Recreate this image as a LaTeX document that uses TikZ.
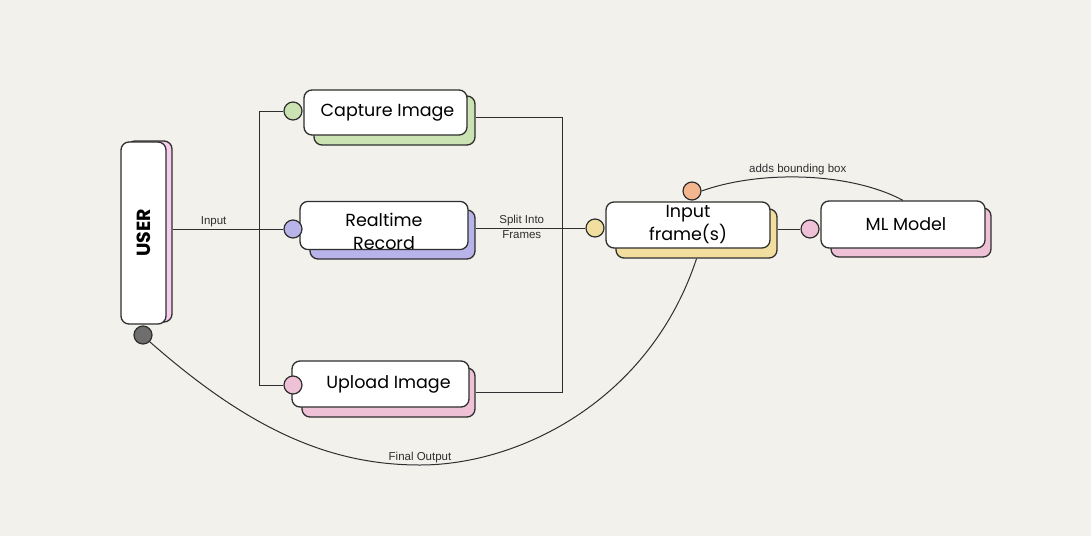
\documentclass[tikz,border=0pt]{standalone}
\usepackage{fontspec}
\setmainfont{Liberation Sans}
\newfontfamily\boxfont{Poppins}
\definecolor{paper}{HTML}{F2F1EC}
\definecolor{ink}{HTML}{2E2E2E}
\definecolor{capgreen}{HTML}{CBE2B3}
\definecolor{reclav}{HTML}{B8B3E8}
\definecolor{uppink}{HTML}{EEC1D6}
\definecolor{inyellow}{HTML}{F2DFA0}
\definecolor{bborange}{HTML}{F3B68F}
\definecolor{userpink}{HTML}{F7CDEE}
\definecolor{outgray}{HTML}{6E6E6E}
\begin{document}
\begin{tikzpicture}[x=1pt,y=-1pt,line width=1pt,
  front/.style={draw=ink,line width=1.3pt,fill=white,rounded corners=8pt,inner sep=0pt,font=\boxfont\fontsize{17.5}{23}\selectfont,align=center},
  back/.style={draw=ink,line width=1.3pt,rounded corners=8pt,inner sep=0pt},
  port/.style={circle,draw=ink,line width=1.2pt,minimum size=18pt,inner sep=0pt},
  lbl/.style={font=\fontsize{11.5}{13}\selectfont,text=ink,inner sep=2pt}]
\fill[paper] (0,0) rectangle (1091,536);
\useasboundingbox (0,0) rectangle (1091,536);
\node[back,fill=userpink,minimum width=45pt,minimum height=181pt] (userS) at (149.5,231.5) {};
\node[front,minimum width=45pt,minimum height=182pt] (user) at (143.5,233) {\rotatebox{90}{\bfseries\fontsize{19}{22}\selectfont USER}};
\node[back,fill=capgreen,minimum width=161pt,minimum height=49pt] (capS) at (394.5,120.5) {};
\node[front,minimum width=163pt,minimum height=45pt] (cap) at (385.5,112.5) {\hspace*{4pt}Capture Image};
\node[back,fill=reclav,minimum width=165pt,minimum height=49pt] (recS) at (392.5,234.5) {};
\node[front,minimum width=168pt,minimum height=45pt] (rec) at (384,225.5) {\rule{0pt}{25pt}Realtime\\Record};
\node[back,fill=uppink,minimum width=173pt,minimum height=49pt] (upS) at (388.5,392.5) {};
\node[front,minimum width=177pt,minimum height=46pt] (up) at (380.5,384) {\hspace*{16pt}Upload Image};
\node[back,fill=inyellow,minimum width=161pt,minimum height=49pt] (inS) at (696.5,233.5) {};
\node[front,minimum width=164pt,minimum height=46pt] (in) at (688,225) {Input\\frame(s)};
\node[back,fill=uppink,minimum width=160pt,minimum height=49pt] (mlS) at (911,232.5) {};
\node[front,minimum width=164pt,minimum height=47pt] (ml) at (903,224.5) {\hspace*{6pt}ML Model};
\node[port,fill=outgray] (userC) at (143,335) {};
\node[port,fill=capgreen] (capC) at (293,111) {};
\node[port,fill=reclav] (recC) at (293,229) {};
\node[port,fill=uppink] (upC) at (293,385) {};
\node[port,fill=inyellow] (inC) at (595,228) {};
\node[port,fill=bborange] (bbC) at (692,191) {};
\node[port,fill=uppink] (mlC) at (810,229) {};
\draw[ink] (userS.east |- recC) -- node[lbl,above,pos=.37] {Input} (recC.west);
\draw[ink] (capC.west) -- ++(-24,0) |- (upC.west);
\draw[ink] (capS.east |- 0,117) -- (562,117) |- (upS.east);
\draw[ink] (recS.east |- inC) -- node[lbl,above,pos=.42] {Split Into} node[lbl,below,pos=.42] {Frames} (inC.west);
\draw[ink] (inS.east |- mlC) -- (mlC.west);
\draw[ink] (bbC.east) .. controls (760,170) and (850,172) .. node[lbl,above,pos=.47] {adds bounding box} (ml.north);
\draw[ink] (userC.south east) .. controls (250,430) and (330,465) .. (420,465) node[lbl,above] {Final Output}
  .. controls (520,465) and (650,400) .. (inS.south);
\end{tikzpicture}
\end{document}
